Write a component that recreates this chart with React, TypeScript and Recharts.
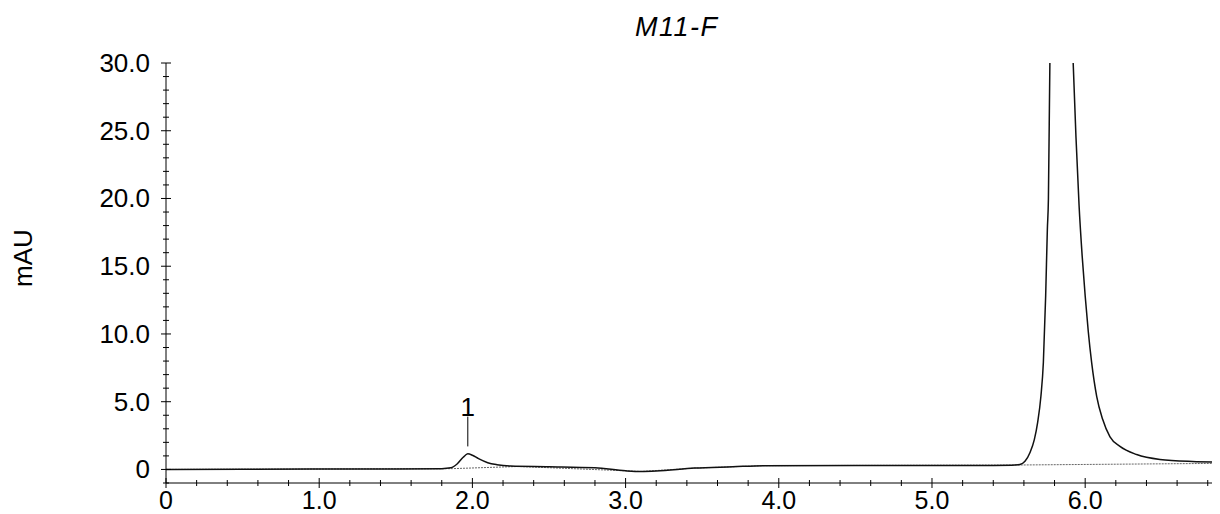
import { ComposedChart, Line, XAxis, YAxis, ReferenceLine, ReferenceDot } from 'recharts'

// retention time (min) and signal (mAU)
const signalTime = [
  0, 0.5, 1.0, 1.5, 1.8, 1.86, 1.9, 1.94, 1.97, 2.0, 2.04, 2.1, 2.16, 2.25, 2.5, 2.8, 3.0, 3.1, 3.2, 3.45, 3.7, 3.9,
  4.5, 5.0, 5.4, 5.52, 5.574, 5.607, 5.64, 5.668, 5.69, 5.711, 5.727, 5.742, 5.753, 5.76, 5.77, 5.8, 5.845, 5.89, 5.92,
  5.94, 5.96, 5.98, 6.0, 6.02, 6.042, 6.075, 6.114, 6.162, 6.227, 6.336, 6.488, 6.7, 6.88,
]
const signalValue = [
  0, 0.02, 0.03, 0.04, 0.06, 0.12, 0.4, 0.9, 1.15, 1.05, 0.8, 0.5, 0.35, 0.25, 0.2, 0.12, -0.1, -0.15, -0.12, 0.1, 0.2,
  0.28, 0.3, 0.3, 0.3, 0.31, 0.37, 0.6, 1.25, 2.2, 3.5, 5.4, 7.9, 12.8, 17.7, 20, 30.5, 42, 50, 42, 30.5,
  24.5, 19.5, 15.8, 12.8, 10.2, 7.9, 5.4, 3.7, 2.4, 1.7, 1.1, 0.74, 0.59, 0.55,
]

// integration baseline
const baseTime = [0, 1.87, 2.3, 3.0, 3.1, 3.45, 3.9, 5.58, 6.88]
const baseValue = [0, 0.06, 0.22, -0.1, -0.15, 0.1, 0.28, 0.33, 0.45]

const xTicks = [
  0, 0.2, 0.4, 0.6, 0.8, 1.0, 1.2, 1.4, 1.6, 1.8, 2.0, 2.2, 2.4, 2.6, 2.8, 3.0, 3.2, 3.4, 3.6, 3.8, 4.0, 4.2, 4.4, 4.6,
  4.8, 5.0, 5.2, 5.4, 5.6, 5.8, 6.0, 6.2, 6.4, 6.6, 6.8,
]
const yTicks = [
  -1, 0, 1, 2, 3, 4, 5, 6, 7, 8, 9, 10, 11, 12, 13, 14, 15, 16, 17, 18, 19, 20, 21, 22, 23, 24, 25, 26, 27, 28, 29, 30,
]

const signal = signalTime.map((t, i) => ({ t, v: signalValue[i] }))
const baseline = baseTime.map((t, i) => ({ t, b: baseValue[i] }))

const font = '"Liberation Sans", Arial, sans-serif'

const XTick = (props: any) => {
  const { x, y, payload } = props
  const v = payload.value
  const major = Math.abs(v - Math.round(v)) < 1e-6
  const h = major ? 5 : 3
  return (
    <g>
      <line x1={x} x2={x} y1={y - h} y2={y + h} stroke="#000" strokeWidth={1} />
      {major && (
        <text x={x} y={y + 26} textAnchor="middle" fontSize={25} fontFamily={font} fill="#000">
          {v === 0 ? '0' : v.toFixed(1)}
        </text>
      )}
    </g>
  )
}

const YTick = (props: any) => {
  const { x, y, payload } = props
  const v = payload.value
  const major = v % 5 === 0
  const w = major ? 5 : 3
  return (
    <g>
      <line x1={x - w} x2={x + w} y1={y} y2={y} stroke="#000" strokeWidth={1} />
      {major && (
        <text x={x - 16} y={y + 9} textAnchor="end" fontSize={26} fontFamily={font} fill="#000">
          {v === 0 ? '0' : v.toFixed(1)}
        </text>
      )}
    </g>
  )
}

export default function App() {
  return (
    <div style={{ position: 'relative', width: 1212, height: 506, fontFamily: font }}>
      <div
        style={{
          position: 'absolute',
          left: 627,
          top: 4,
          fontSize: 27,
          fontStyle: 'italic',
          letterSpacing: 1.5,
          color: '#000',
        }}
      >
        M11-F
      </div>
      <div
        style={{
          position: 'absolute',
          left: 15,
          top: 250,
          fontSize: 26,
          color: '#000',
          transform: 'translate(-50%, -50%) rotate(-90deg)',
          transformOrigin: 'center',
          whiteSpace: 'nowrap',
        }}
      >
        mAU
      </div>
      <ComposedChart width={1212} height={506} margin={{ top: 55, right: 0, bottom: 0, left: 0 }}>
        <XAxis
          dataKey="t"
          type="number"
          domain={[0, 6.88]}
          ticks={xTicks}
          interval={0}
          allowDataOverflow
          height={31}
          tickSize={0}
          tickMargin={0}
          tick={<XTick />}
          axisLine={{ stroke: '#000', strokeWidth: 1 }}
        />
        <YAxis
          type="number"
          domain={[-1, 30]}
          ticks={yTicks}
          interval={0}
          allowDataOverflow
          width={158}
          tickSize={0}
          tickMargin={0}
          tick={<YTick />}
          axisLine={{ stroke: '#000', strokeWidth: 1 }}
        />
        <Line
          data={baseline}
          dataKey="b"
          type="linear"
          stroke="#666"
          strokeWidth={1}
          strokeDasharray="2 1"
          dot={false}
          isAnimationActive={false}
        />
        <Line
          data={signal}
          dataKey="v"
          type="monotone"
          stroke="#111"
          strokeWidth={1.5}
          dot={false}
          isAnimationActive={false}
        />
        <ReferenceLine
          segment={[
            { x: 1.97, y: 1.7 },
            { x: 1.97, y: 3.9 },
          ]}
          stroke="#000"
          strokeWidth={1}
        />
        <ReferenceDot
          x={1.97}
          y={4.6}
          r={1}
          fill="none"
          stroke="none"
          label={{ value: '1', position: 'center', fontSize: 26, fontFamily: font, fill: '#000' }}
        />
      </ComposedChart>
    </div>
  )
}
